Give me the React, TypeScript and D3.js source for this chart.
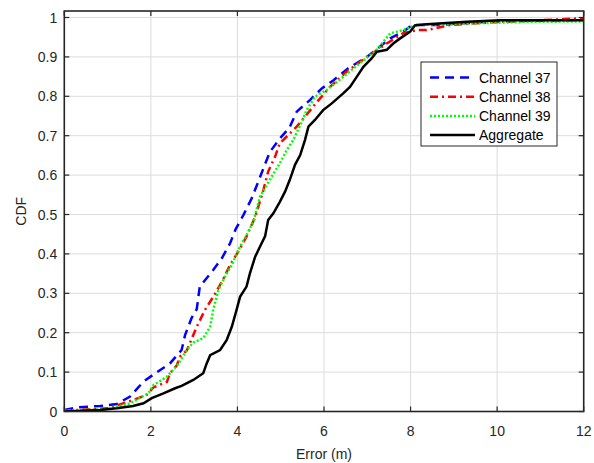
import React from "react";
import * as d3 from "d3";

const xTicks = [0, 2, 4, 6, 8, 10, 12];
const yTicks = [0, 0.1, 0.2, 0.3, 0.4, 0.5, 0.6, 0.7, 0.8, 0.9, 1];
const seriesNames = ["Channel 37", "Channel 38", "Channel 39", "Aggregate"];

const ch37: [number, number][] = [
  [0, 0.004], [0.36, 0.011], [0.83, 0.014], [1.21, 0.019], [1.52, 0.038], [1.83, 0.076],
  [2.13, 0.099], [2.44, 0.122], [2.71, 0.156], [2.79, 0.194], [2.94, 0.237], [3.06, 0.26],
  [3.13, 0.317], [3.44, 0.359], [3.64, 0.389], [3.83, 0.427], [3.96, 0.463], [4.14, 0.499],
  [4.33, 0.541], [4.48, 0.583], [4.6, 0.617], [4.75, 0.659], [4.98, 0.693], [5.2, 0.72],
  [5.37, 0.761], [5.68, 0.791], [5.95, 0.82], [6.22, 0.841], [6.56, 0.871], [6.99, 0.9],
  [7.53, 0.947], [7.83, 0.964], [8.03, 0.981], [8.68, 0.981], [9.14, 0.985], [10.0, 0.99],
  [12, 0.994],
];

const ch38: [number, number][] = [
  [0, 0.002], [1.0, 0.008], [1.17, 0.014], [1.59, 0.029], [1.9, 0.042], [2.06, 0.061],
  [2.37, 0.075], [2.44, 0.097], [2.6, 0.117], [2.67, 0.139], [2.83, 0.155], [2.9, 0.173],
  [3.06, 0.215], [3.25, 0.258], [3.44, 0.291], [3.64, 0.329], [3.83, 0.372], [4.02, 0.406],
  [4.21, 0.444], [4.41, 0.494], [4.6, 0.562], [4.71, 0.609], [4.87, 0.647], [4.98, 0.681],
  [5.14, 0.698], [5.37, 0.723], [5.56, 0.748], [5.81, 0.782], [6.14, 0.824], [6.52, 0.862],
  [6.99, 0.9], [7.45, 0.934], [7.83, 0.96], [8.14, 0.968], [8.37, 0.968], [8.91, 0.981],
  [10.07, 0.989], [12, 0.998],
];

const ch39: [number, number][] = [
  [0, 0.002], [1.0, 0.006], [1.5, 0.02], [1.94, 0.046], [2.06, 0.067], [2.37, 0.088],
  [2.63, 0.12], [2.83, 0.156], [2.98, 0.175], [3.21, 0.186], [3.37, 0.215], [3.44, 0.258],
  [3.56, 0.308], [3.71, 0.342], [3.87, 0.372], [4.02, 0.41], [4.21, 0.448], [4.37, 0.482],
  [4.52, 0.545], [4.79, 0.596], [4.98, 0.63], [5.14, 0.664], [5.29, 0.689], [5.45, 0.727],
  [5.6, 0.765], [5.79, 0.799], [6.06, 0.816], [6.45, 0.85], [6.83, 0.884], [7.22, 0.918],
  [7.53, 0.96], [7.83, 0.968], [8.14, 0.981], [9.3, 0.985], [10.83, 0.989], [12, 0.99],
];

const aggregate: [number, number][] = [
  [0, 0], [0.83, 0.004], [1.21, 0.008], [1.59, 0.014], [1.83, 0.021], [2.02, 0.034],
  [2.29, 0.046], [2.56, 0.059], [2.71, 0.065], [2.98, 0.08], [3.21, 0.097], [3.29, 0.122],
  [3.37, 0.143], [3.6, 0.156], [3.75, 0.181], [3.87, 0.215], [3.98, 0.258], [4.06, 0.291],
  [4.21, 0.317], [4.29, 0.351], [4.41, 0.393], [4.52, 0.418], [4.64, 0.445], [4.71, 0.486],
  [4.83, 0.503], [4.98, 0.532], [5.1, 0.558], [5.21, 0.588], [5.33, 0.626], [5.45, 0.651],
  [5.56, 0.689], [5.64, 0.723], [5.79, 0.74], [5.98, 0.765], [6.18, 0.782], [6.45, 0.808],
  [6.6, 0.824], [6.76, 0.85], [6.91, 0.875], [7.1, 0.896], [7.22, 0.913], [7.45, 0.918],
  [7.6, 0.934], [7.76, 0.947], [7.99, 0.964], [8.1, 0.98], [8.37, 0.983], [9.3, 0.989],
  [10.07, 0.993], [12, 0.993],
];

const seriesData = [ch37, ch38, ch39, aggregate];
const seriesColors = ["#0000ff", "#ff0000", "#00ff00", "#000000"];
const seriesDash = ["9,6", "8,4,2,4", "2,2", ""];

const W = 594;
const H = 463;
const left = 64.3;
const right = 583.7;
const top = 11;
const bottom = 411.5;

export default function App() {
  const x = d3.scaleLinear().domain([0, 12]).range([left, right]);
  const y = d3.scaleLinear().domain([0, 1.0165]).range([bottom, top]);
  const line = d3
    .line<[number, number]>()
    .x((d) => x(d[0]))
    .y((d) => y(d[1]));
  const axisColor = "#262626";
  const font = "'Liberation Sans', Arial, Helvetica, sans-serif";
  const lgX = 421;
  const lgY = 62;
  const lgW = 136;
  const lgH = 84;
  return (
    <svg
      width={W}
      height={H}
      style={{ position: "absolute", left: 0, top: 0, background: "#fff" }}
      fontFamily={font}
    >
      <rect x={0} y={0} width={W} height={H} fill="#fff" />
      {xTicks.map((t) => (
        <line key={"gx" + t} x1={x(t)} x2={x(t)} y1={top} y2={bottom} stroke="#dcdcdc" strokeWidth={1} />
      ))}
      {yTicks.map((t) => (
        <line key={"gy" + t} x1={left} x2={right} y1={y(t)} y2={y(t)} stroke="#dcdcdc" strokeWidth={1} />
      ))}
      <defs>
        <clipPath id="plotclip">
          <rect x={left} y={top} width={right - left} height={bottom - top} />
        </clipPath>
      </defs>
      <g clipPath="url(#plotclip)">
        {seriesData.map((s, i) => (
          <path
            key={i}
            d={line(s) || ""}
            fill="none"
            stroke={seriesColors[i]}
            strokeWidth={2.5}
            strokeDasharray={seriesDash[i] || undefined}
          />
        ))}
      </g>
      {xTicks.map((t) => (
        <g key={"tx" + t}>
          <line x1={x(t)} x2={x(t)} y1={bottom} y2={bottom - 5} stroke={axisColor} strokeWidth={1.2} />
          <line x1={x(t)} x2={x(t)} y1={top} y2={top + 5} stroke={axisColor} strokeWidth={1.2} />
          <text x={x(t)} y={bottom + 24} textAnchor="middle" fontSize={14} fill={axisColor}>
            {t}
          </text>
        </g>
      ))}
      {yTicks.map((t) => (
        <g key={"ty" + t}>
          <line x1={left} x2={left + 5} y1={y(t)} y2={y(t)} stroke={axisColor} strokeWidth={1.2} />
          <line x1={right} x2={right - 5} y1={y(t)} y2={y(t)} stroke={axisColor} strokeWidth={1.2} />
          <text x={left - 7} y={y(t) + 5} textAnchor="end" fontSize={14} fill={axisColor}>
            {t}
          </text>
        </g>
      ))}
      <rect x={left} y={top} width={right - left} height={bottom - top} fill="none" stroke={axisColor} strokeWidth={1.6} />
      <text x={(left + right) / 2} y={459} textAnchor="middle" fontSize={14} fill={axisColor}>
        Error (m)
      </text>
      <text
        transform={`translate(26,${(top + bottom) / 2}) rotate(-90)`}
        textAnchor="middle"
        fontSize={14}
        fill={axisColor}
      >
        CDF
      </text>
      <rect x={lgX} y={lgY} width={lgW} height={lgH} fill="#fff" stroke={axisColor} strokeWidth={1} />
      {seriesNames.map((n, i) => {
        const ly = lgY + 15.5 + i * 19.2;
        return (
          <g key={n}>
            <line
              x1={lgX + 9}
              x2={lgX + 54}
              y1={ly}
              y2={ly}
              stroke={seriesColors[i]}
              strokeWidth={2.5}
              strokeDasharray={seriesDash[i] || undefined}
            />
            <text x={lgX + 58} y={ly + 5} fontSize={14} fill="#000">
              {n}
            </text>
          </g>
        );
      })}
    </svg>
  );
}
